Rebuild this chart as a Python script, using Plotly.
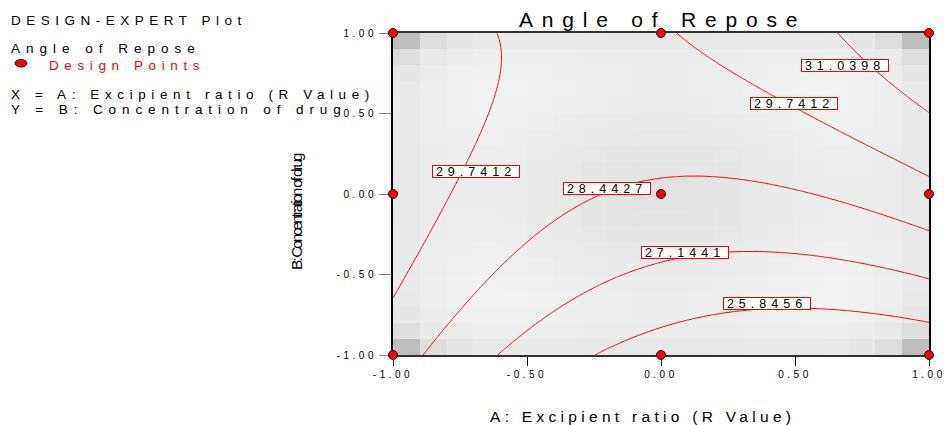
import numpy as np
import plotly.graph_objects as go

# ---------------- data ----------------
design_A = [-1, 0, 1, -1, 0, 1, -1, 0, 1]          # A: Excipient ratio (coded)
design_B = [-1, -1, -1, 0, 0, 0, 1, 1, 1]          # B: Concentration of drug (coded)
# fitted quadratic model for Angle of Repose (coded factors)
coef_names = ["Intercept", "A", "B", "AB", "A^2", "B^2"]
coef_values = [28.23, -0.59, 2.23, 1.53, 1.70, -0.78]
contour_levels = [25.8456, 27.1441, 28.4427, 29.7412, 31.0398]
tick_vals = [-1.0, -0.5, 0.0, 0.5, 1.0]
tick_text = ["-1.00", "-0.50", "0.00", "0.50", "1.00"]
label_texts = ["29.7412", "28.4427", "29.7412", "31.0398", "27.1441", "25.8456"]

# ---------------- layout helpers ----------------
label_pos = [(-0.690, 0.137), (-0.203, 0.037), (0.496, 0.562),
             (0.685, 0.798), (0.090, -0.363), (0.396, -0.677)]
FONT = "Liberation Sans, Arial, sans-serif"
L, R, T, B = 393, 929, 33, 355
W, H = R - L, B - T


def px(x):
    return (x - L) / W


def py(y):
    return (B - y) / H


def spaced(text, ls):
    return f'<span style="letter-spacing:{ls}px">{text}</span>'


def model(a, b):
    c0, c1, c2, c12, c11, c22 = coef_values
    return c0 + c1 * a + c2 * b + c12 * a * b + c11 * a * a + c22 * b * b


def terms(a, b):
    return np.array([1.0, a, b, a * b, a * a, b * b])


# response surface
g = np.linspace(-1, 1, 241)
GA, GB = np.meshgrid(g, g)
Z = model(GA, GB)

# standard-error shading from the design
Xd = np.array([terms(a, b) for a, b in zip(design_A, design_B)])
XtXi = np.linalg.inv(Xd.T @ Xd)
cells = np.linspace(-0.95, 0.95, 20)
SE = np.array([[np.sqrt(terms(a, b) @ XtXi @ terms(a, b)) for a in cells] for b in cells])

fig = go.Figure()
fig.add_trace(go.Heatmap(
    x=cells, y=cells, z=SE, zsmooth=False, showscale=False, hoverinfo="skip",
    colorscale=[[0, "rgb(242,242,242)"], [0.5, "rgb(233,233,233)"],
                [0.65, "rgb(227,227,227)"], [0.8, "rgb(215,215,215)"],
                [1, "rgb(190,190,190)"]]))
step = (contour_levels[-1] - contour_levels[0]) / (len(contour_levels) - 1)
fig.add_trace(go.Contour(
    x=g, y=g, z=Z, showscale=False, hoverinfo="skip",
    contours=dict(start=contour_levels[0], end=contour_levels[-1] + 0.01, size=step,
                  coloring="none", showlabels=False),
    line=dict(color="red", width=1)))
fig.add_trace(go.Scatter(
    x=design_A, y=design_B, mode="markers", cliponaxis=False, hoverinfo="skip",
    marker=dict(color="red", size=9, line=dict(color="#330000", width=1))))

ann = []
for (a, b), t in zip(label_pos, label_texts):
    ann.append(dict(x=a, y=b, xref="x", yref="y", text=spaced(t, 5), showarrow=False,
                    font=dict(family=FONT, size=12.5, color="black"), bgcolor="white",
                    bordercolor="red", borderwidth=1, borderpad=0, width=86, height=11))


def txt(x, y, text, size, ls, color="black", xanchor="left", angle=0, family=FONT):
    ann.append(dict(x=px(x), y=py(y), xref="paper", yref="paper", text=spaced(text, ls),
                    showarrow=False, xanchor=xanchor, yanchor="middle", textangle=angle,
                    font=dict(family=family, size=size, color=color)))


txt(9, 21, "DESIGN-EXPERT Plot", 13.5, 5.5)
txt(9, 48, "Angle of Repose", 13.5, 6)
txt(47, 65.5, "Design Points", 13.5, 5.6, color="red")
txt(9, 94, "X = A: Excipient ratio (R Value)", 13.5, 5.6)
txt(9, 109.5, "Y = B: Concentration of drug", 13.5, 5.9)
txt(662, 20, "Angle of Repose", 21, 8.8, xanchor="center")
txt(642, 416, "A: Excipient ratio (R Value)", 15.5, 4.3, xanchor="center")
txt(296, 212, "B: Concentration of drug", 15.5, -2.2, xanchor="center", angle=-90,
    family="Liberation Sans Narrow, Arial Narrow, Liberation Sans, sans-serif")

axis_common = dict(range=[-1, 1], tickmode="array", tickvals=tick_vals,
                   ticktext=[spaced(t, 3.5) for t in tick_text], ticks="outside",
                   showgrid=False, zeroline=False, showline=True, mirror=True,
                   layer="below traces", automargin=False,
                   tickfont=dict(family=FONT, size=10, color="black"))

fig.update_layout(
    width=948, height=425, margin=dict(l=L, r=948 - R, t=T, b=425 - B),
    paper_bgcolor="white", plot_bgcolor="white", showlegend=False,
    xaxis=dict(**axis_common, ticklen=9, tickcolor="black", linecolor="#333", linewidth=1.5),
    yaxis=dict(**axis_common, ticklen=12, tickcolor="#888", linecolor="black", linewidth=2),
    annotations=ann,
    shapes=[dict(type="circle", xref="paper", yref="paper",
                 x0=px(15), x1=px(27), y0=py(67), y1=py(59.5),
                 fillcolor="red", line=dict(color="#330000", width=1))])

fig.write_html("out.html")
